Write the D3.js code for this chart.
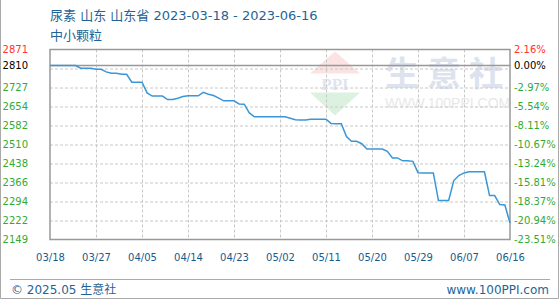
<!DOCTYPE html>
<html>
<head>
<meta charset="utf-8">
<script src="https://cdn.jsdelivr.net/npm/d3@7"></script>
<style>
  body { margin: 0; background: #fff; }
  svg { display: block; font-family: "DejaVu Sans", "Noto Sans CJK SC", sans-serif; }
</style>
</head>
<body>
<div id="wrapper"></div>
<script>
const titleText = "尿素 山东 山东省 2023-03-18 - 2023-06-16";
const subtitleText = "中小颗粒";
const startDate = new Date(2023, 2, 18);
const endDate = new Date(2023, 5, 16);
const baseValue = 2810;
const yMin = 2149;
const yMax = 2871;

const prices = [
  2810, 2810, 2810, 2810, 2810, 2810, 2800, 2800, 2800, 2796,
  2796, 2786, 2781, 2781, 2777, 2777, 2747, 2747, 2747, 2706,
  2694, 2694, 2694, 2681, 2681, 2686, 2692, 2695, 2695, 2695,
  2708, 2701, 2696, 2686, 2676, 2676, 2676, 2664, 2663, 2630,
  2615, 2615, 2615, 2615, 2615, 2615, 2615, 2610, 2604, 2603,
  2603, 2606, 2606, 2606, 2606, 2590, 2589, 2589, 2540, 2522,
  2522, 2513, 2493, 2493, 2493, 2493, 2484, 2459, 2459, 2448,
  2448, 2446, 2403, 2402, 2402, 2402, 2297, 2297, 2297, 2373,
  2392, 2402, 2406, 2406, 2406, 2406, 2316, 2316, 2282, 2280,
  2212
];

const leftTickLabels = ["2871", "2810", "2727", "2654", "2582", "2510", "2438", "2366", "2294", "2222", "2149"];
const rightTickLabels = ["2.16%", "0.00%", "-2.97%", "-5.54%", "-8.11%", "-10.67%", "-13.24%", "-15.81%", "-18.37%", "-20.94%", "-23.51%"];
const xTickLabels = ["03/18", "03/27", "04/05", "04/14", "04/23", "05/02", "05/11", "05/20", "05/29", "06/07", "06/16"];

function drawChart() {
  const dates = d3.timeDay.range(startDate, d3.timeDay.offset(endDate, 1));
  const dataset = dates.map((d, i) => ({ date: d, value: prices[i] }));

  const xAccessor = d => d.date;
  const yAccessor = d => d.value;

  const dimensions = {
    width: 560,
    height: 300,
    margin: { top: 49.5, right: 50, bottom: 60, left: 50 },
  };
  dimensions.boundedWidth = dimensions.width - dimensions.margin.left - dimensions.margin.right;
  dimensions.boundedHeight = dimensions.height - dimensions.margin.top - dimensions.margin.bottom - 0.5;

  const wrapper = d3.select("#wrapper")
    .append("svg")
      .attr("width", dimensions.width)
      .attr("height", dimensions.height);

  // outer frame
  wrapper.append("path")
    .attr("d", `M0.5,0 V298.5 H558.5 V0`)
    .attr("fill", "none")
    .attr("stroke", "#aaa");

  wrapper.append("text")
    .attr("x", 50).attr("y", 20)
    .attr("fill", "#1f6496")
    .style("font-size", "13px")
    .text(titleText);

  wrapper.append("text")
    .attr("x", 50).attr("y", 40)
    .attr("fill", "#1f6496")
    .style("font-size", "13px")
    .text(subtitleText);

  const bounds = wrapper.append("g")
    .attr("transform", `translate(${dimensions.margin.left}, ${dimensions.margin.top})`);

  const xScale = d3.scaleTime()
    .domain([startDate, endDate])
    .range([0, dimensions.boundedWidth]);

  const yScale = d3.scaleLinear()
    .domain([yMin, yMax])
    .range([dimensions.boundedHeight, 0]);

  // watermark
  const wm = bounds.append("g").attr("transform", "translate(260, 0)");
  wm.append("path")
    .attr("d", "M25,2 L50,24 L0,24 Z")
    .attr("fill", "#fbe3e3");
  wm.append("text")
    .attr("x", 25).attr("y", 40)
    .attr("text-anchor", "middle")
    .attr("fill", "#dfe5ef")
    .style("font-size", "17px")
    .style("font-weight", "bold")
    .style("font-family", "Liberation Serif, serif")
    .text("PPI");
  wm.append("path")
    .attr("d", "M0,43 L50,43 L25,66 Z")
    .attr("fill", "#ddf1e1");
  wm.append("text")
    .attr("x", 75).attr("y", 36)
    .attr("fill", "#dde3ee")
    .style("font-size", "34px")
    .style("font-weight", "bold")
    .style("letter-spacing", "8px")
    .text("生意社");
  wm.append("text")
    .attr("x", 75).attr("y", 58)
    .attr("fill", "#e8e8e8")
    .style("font-size", "14px")
    .style("font-family", "Liberation Sans, sans-serif")
    .text("WWW.100PPI.COM");

  // grid
  const xTicks = d3.range(xTickLabels.length).map(k => d3.timeDay.offset(startDate, k * 9));
  const gridValues = d3.range(leftTickLabels.length).map(k => yMin + k * (yMax - yMin) / 10);

  bounds.append("g")
    .selectAll("line")
    .data(gridValues.slice(1, -1))
    .join("line")
      .attr("x1", 0).attr("x2", dimensions.boundedWidth)
      .attr("y1", d => Math.round(yScale(d)) + 0.5)
      .attr("y2", d => Math.round(yScale(d)) + 0.5)
      .attr("stroke", "#c8c8c8")
      .attr("stroke-dasharray", "3,2");

  bounds.append("g")
    .selectAll("line")
    .data(xTicks.slice(1, -1))
    .join("line")
      .attr("x1", d => Math.round(xScale(d)) + 0.5)
      .attr("x2", d => Math.round(xScale(d)) + 0.5)
      .attr("y1", 0).attr("y2", dimensions.boundedHeight)
      .attr("stroke", "#c8c8c8")
      .attr("stroke-dasharray", "3,2");

  // base line
  bounds.append("line")
    .attr("x1", 0).attr("x2", dimensions.boundedWidth)
    .attr("y1", yScale(baseValue)).attr("y2", yScale(baseValue))
    .attr("stroke", "#999")
    .attr("stroke-width", 1.5);

  // frame
  bounds.append("rect")
    .attr("width", dimensions.boundedWidth)
    .attr("height", dimensions.boundedHeight)
    .attr("fill", "none")
    .attr("stroke", "#999")
    .attr("stroke-width", 1.5);

  const lineGenerator = d3.line()
    .x(d => xScale(xAccessor(d)))
    .y(d => yScale(yAccessor(d)));

  bounds.append("path")
    .attr("d", lineGenerator(dataset))
    .attr("fill", "none")
    .attr("stroke", "#3a96d6")
    .attr("stroke-width", 1.5);

  // y labels
  const leftValues = [yMax, baseValue].concat(gridValues.slice(0, 9).reverse());
  const labelColor = i => i === 0 ? "#ff3333" : i === 1 ? "#000" : "#33aa33";

  const yAxisLeft = bounds.append("g")
    .call(d3.axisLeft(yScale)
      .tickValues(leftValues)
      .tickFormat((d, i) => leftTickLabels[i])
      .tickSize(0)
      .tickPadding(22));
  yAxisLeft.select(".domain").remove();
  yAxisLeft.selectAll("text")
    .attr("fill", (d, i) => labelColor(i))
    .style("font-size", "10px")
    .style("font-family", "DejaVu Sans");

  const yAxisRight = bounds.append("g")
    .attr("transform", `translate(${dimensions.boundedWidth}, 0)`)
    .call(d3.axisRight(yScale)
      .tickValues(leftValues)
      .tickFormat((d, i) => rightTickLabels[i])
      .tickSize(0)
      .tickPadding(4));
  yAxisRight.select(".domain").remove();
  yAxisRight.selectAll("text")
    .attr("fill", (d, i) => labelColor(i))
    .style("font-size", "10px")
    .style("font-family", "DejaVu Sans");

  // x labels
  const xAxis = bounds.append("g")
    .attr("transform", `translate(0, ${dimensions.boundedHeight})`)
    .call(d3.axisBottom(xScale)
      .tickValues(xTicks)
      .tickFormat((d, i) => xTickLabels[i])
      .tickSize(0)
      .tickPadding(14));
  xAxis.select(".domain").remove();
  xAxis.selectAll("text")
    .attr("fill", "#1a5a8a")
    .style("font-size", "10px")
    .style("font-family", "DejaVu Sans");

  // footer
  wrapper.append("line")
    .attr("x1", 10).attr("x2", 550)
    .attr("y1", 279.5).attr("y2", 279.5)
    .attr("stroke", "#aaa");

  wrapper.append("text")
    .attr("x", 11).attr("y", 294)
    .attr("fill", "#1f6496")
    .style("font-size", "12px")
    .text("© 2025.05 生意社");

  wrapper.append("text")
    .attr("x", 549).attr("y", 294)
    .attr("text-anchor", "end")
    .attr("fill", "#1f6496")
    .style("font-size", "12px")
    .text("www.100PPI.com");
}

drawChart();
</script>
</body>
</html>
